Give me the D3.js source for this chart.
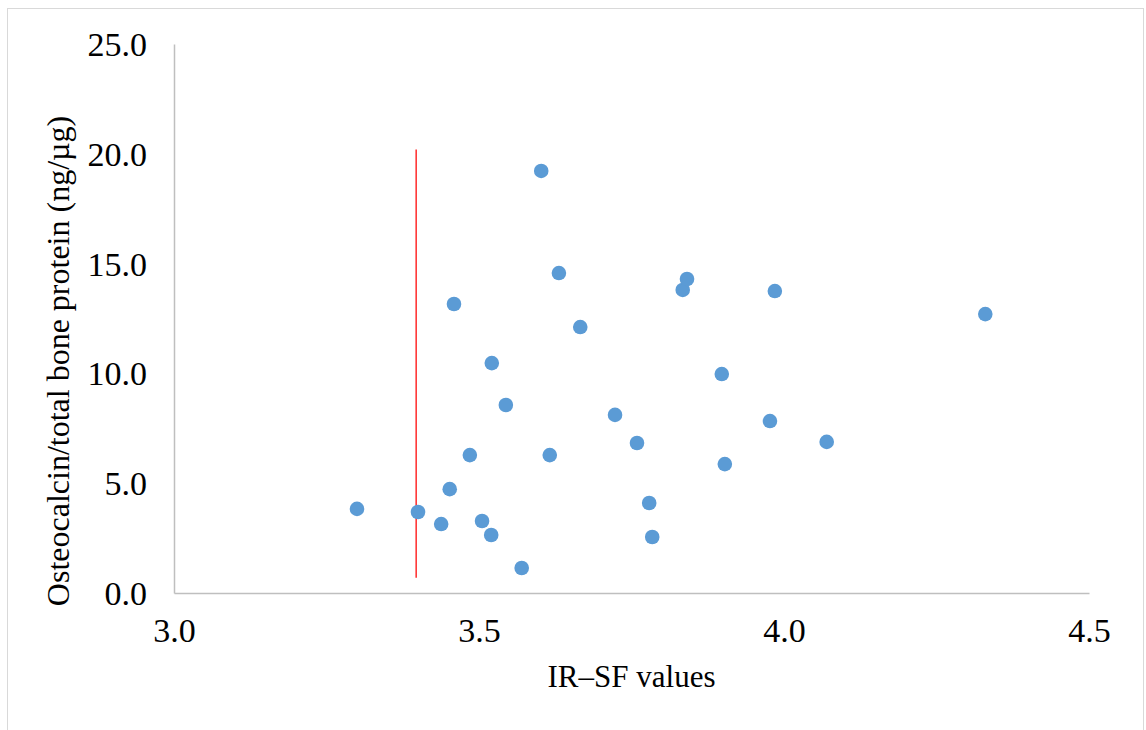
<!DOCTYPE html>
<html>
<head>
<meta charset="utf-8">
<script src="https://cdn.jsdelivr.net/npm/d3@7"></script>
<style>
  body { margin: 0; background: #fff; }
  svg { display: block; font-family: "Liberation Serif", "Times New Roman", serif; }
</style>
</head>
<body>
<script>
// IR-SF value (x) and osteocalcin / total bone protein (y)
const irsf = [3.300, 3.400, 3.438, 3.452, 3.459, 3.485, 3.505, 3.520, 3.521, 3.544,
              3.570, 3.602, 3.616, 3.631, 3.666, 3.723, 3.759, 3.779, 3.784, 3.834,
              3.841, 3.898, 3.903, 3.977, 3.985, 4.070, 4.330];
const osteocalcin = [3.83, 3.69, 3.14, 4.73, 13.16, 6.28, 3.28, 2.64, 10.47, 8.56,
                     1.14, 19.22, 6.28, 14.57, 12.11, 8.11, 6.83, 4.10, 2.55, 13.80,
                     14.30, 9.97, 5.87, 7.83, 13.75, 6.88, 12.70];
const xTicks = [3.0, 3.5, 4.0, 4.5];
const yTicks = [0, 5, 10, 15, 20, 25];
// vertical reference line
const cutoff = 3.397;
const cutoffRange = [0.7, 20.2];

(function() {
    const width = 1146, height = 730;
    const plotLeft = 174, plotRight = 1089, plotTop = 44, plotBottom = 593;

    const svg = d3.select('body').append('svg')
        .attr('width', width)
        .attr('height', height);

    svg.append('rect')
        .attr('x', 7.5).attr('y', 8.5)
        .attr('width', 1136).attr('height', 740)
        .attr('fill', 'none')
        .attr('stroke', '#d9d9d9');

    const x = d3.scaleLinear().domain([3.0, 4.5]).range([plotLeft, plotRight]);
    const y = d3.scaleLinear().domain([0, 25]).range([plotBottom, plotTop]);

    const xAxis = svg.append('g')
        .attr('transform', `translate(0,${plotBottom})`)
        .call(d3.axisBottom(x).tickValues(xTicks).tickSize(0).tickPadding(25)
                .tickFormat(d3.format('.1f')));
    const yAxis = svg.append('g')
        .attr('transform', `translate(${plotLeft},0)`)
        .call(d3.axisLeft(y).tickValues(yTicks).tickSize(0).tickPadding(27)
                .tickFormat(d3.format('.1f')));

    [xAxis, yAxis].forEach(g => {
        g.select('.domain').attr('stroke', '#bfbfbf').attr('stroke-width', 1.5);
        g.selectAll('text')
            .attr('font-family', '"Liberation Serif", "Times New Roman", serif')
            .attr('font-size', 34)
            .attr('fill', '#000');
    });
    xAxis.selectAll('text').attr('dy', '0.71em');
    yAxis.selectAll('text').attr('dy', '0.34em');

    svg.append('line')
        .attr('x1', x(cutoff)).attr('x2', x(cutoff))
        .attr('y1', y(cutoffRange[0])).attr('y2', y(cutoffRange[1]))
        .attr('stroke', '#ff2a2a')
        .attr('stroke-width', 1.5);

    svg.append('g').selectAll('circle')
        .data(irsf)
        .enter()
        .append('circle')
        .attr('cx', d => x(d))
        .attr('cy', (d, i) => y(osteocalcin[i]))
        .attr('r', 7.3)
        .attr('fill', '#5b9bd5');

    svg.append('text')
        .attr('x', (plotLeft + plotRight) / 2)
        .attr('y', 687)
        .attr('text-anchor', 'middle')
        .attr('font-size', 31)
        .text('IR–SF values');

    svg.append('text')
        .attr('transform', 'translate(69,361) rotate(-90)')
        .attr('text-anchor', 'middle')
        .attr('font-size', 32)
        .text('Osteocalcin/total bone protein (ng/µg)');
})();
</script>
</body>
</html>
